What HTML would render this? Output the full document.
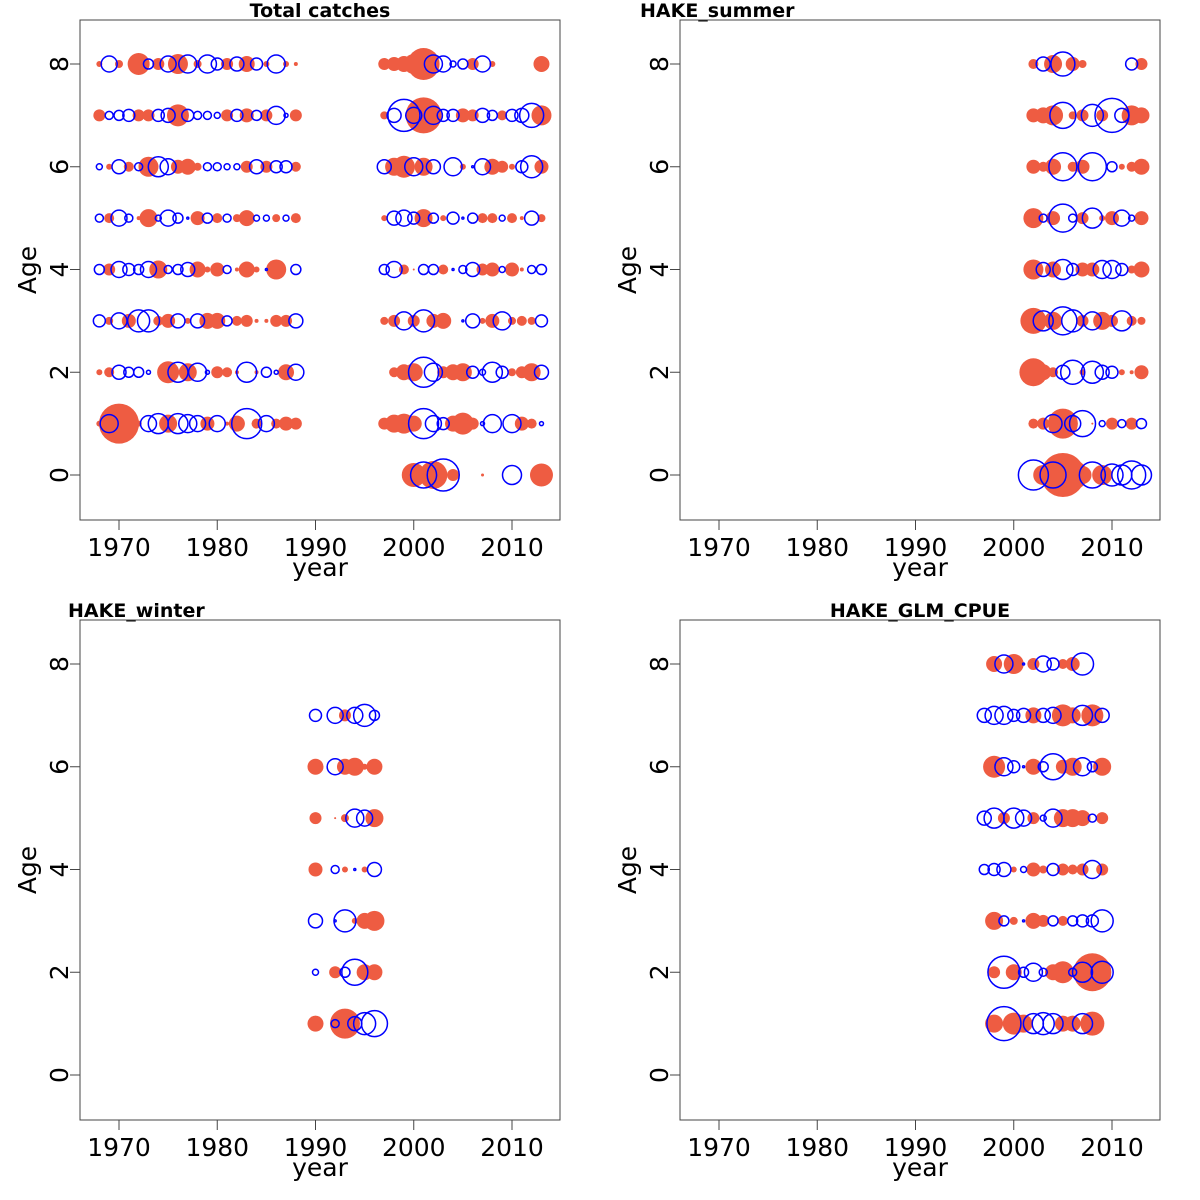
<!DOCTYPE html>
<html><head><meta charset="utf-8"><style>
html,body{margin:0;padding:0;background:#fff;}
svg{display:block;font-family:"DejaVu Sans","Liberation Sans",sans-serif;}
</style></head><body>
<svg id="chart" width="1200" height="1200" viewBox="0 0 1200 1200" xmlns="http://www.w3.org/2000/svg"></svg>
<script>
// ---- data ----
const tcYears = [1968,1969,1970,1971,1972,1973,1974,1975,1976,1977,1978,1979,1980,1981,1982,1983,1984,1985,1986,1987,1988,1997,1998,1999,2000,2001,2002,2003,2004,2005,2006,2007,2008,2009,2010,2011,2012,2013];
const tcAge0 = [0,0,0,0,0,0,0,0,0,0,0,0,0,0,0,0,0,0,0,0,0, 0,0,0,1.2,-1.3,1.4,-1.6,.6,0,0,.15,0,0,-.95,0,0,1.15];
const tcAge1 = [.3,-.9,2.0,.3,.3,-.8,-1.0,.9,-1.0,-.9,-.8,.7,-.8,.2,.8,-1.5,.5,-.8,.5,.7,.6, .6,.9,1.0,.8,-1.5,-.8,-.6,.8,1.1,.6,-.2,-.9,0,-.9,.7,.5,-.2];
const tcAge2 = [.3,.5,-.7,-.5,-.5,-.2,0,1.1,-1.0,.9,-.9,-.2,.6,.5,.2,-1.0,.2,-.5,-.2,.8,-.8, 0,.5,.8,.9,-1.5,-.9,.6,.8,.9,-.6,-.3,-1.0,-.6,.4,.6,.9,-.7];
const tcAge3 = [-.6,.4,-.8,.7,-1.1,-1.1,.5,.7,-.7,.3,-.7,.8,.8,-.5,.5,.6,.2,.2,.6,.6,-.7, .4,.6,-.9,.6,-1.1,.7,.8,0,-.1,-.7,.3,.7,-.9,.4,.5,.4,-.6];
const tcAge4 = [-.5,.6,-.8,-.6,-.5,-.8,.9,-.4,-.5,-.7,.8,.3,.7,-.4,.2,.8,.3,-.1,1.0,0,-.5, -.5,-.8,.5,.1,-.5,-.5,.5,-.1,-.4,-.7,.6,.7,-.3,.7,.2,-.4,-.5];
const tcAge5 = [-.4,.5,-.8,-.4,.2,.9,-.3,-.8,-.5,-.1,.7,-.5,.5,-.4,.4,.8,-.3,-.3,.4,-.3,.5, .3,-.7,-.8,-.6,.9,-.5,.3,-.6,-.1,-.5,.5,.5,-.3,.5,.2,-.7,.4];
const tcAge6 = [-.3,.3,-.7,.5,-.4,1.0,-1.0,-.8,.7,.8,.4,-.4,-.4,-.3,-.3,.6,-.7,.6,-.6,-.6,.5, -.7,.9,1.1,-.9,.9,-.7,0,-.9,.3,-.1,-.8,.8,.6,.3,-.6,-1.1,.7];
const tcAge7 = [.6,-.4,-.5,-.6,.6,.6,-.6,-.7,1.1,-.6,-.4,-.4,-.3,.6,-.6,.7,-.5,.6,-.9,-.2,.6, .4,-.7,-1.6,-.8,1.8,-.9,-.6,-.6,.7,.6,-.7,-.5,.5,-.6,-.7,-1.2,1.0];
const tcAge8 = [.3,-.8,.4,.1,1.1,-.5,.6,-.8,1.0,-.9,.4,-.9,-.6,.6,-.7,.8,-.6,.3,-.9,.3,.2, .6,.7,.8,1.0,1.6,-.9,-.8,-.3,-.5,.6,-.8,.3,0,0,0,0,.8];

const suYears = [2002,2003,2004,2005,2006,2007,2008,2009,2010,2011,2012,2013];
const suAge0 = [-1.5,1.0,-1.3,2.2,1.5,.9,-1.3,1.0,-1.1,-1.0,-1.4,-1.0];
const suAge1 = [.5,.6,-.9,1.5,-.8,-1.3,.1,-.3,.6,-.4,.6,-.5];
const suAge2 = [1.4,.8,.5,-.7,-1.2,.3,-1.1,-.7,-.6,.3,.2,.7];
const suAge3 = [1.3,-1.0,.9,-1.4,-1.1,.6,-.9,.9,.6,-1.0,.5,.4];
const suAge4 = [1.0,-.7,.8,-1.0,-.6,.7,.7,-.9,-.9,-.6,.4,.8];
const suAge5 = [1.0,-.4,.7,-1.4,-.4,.6,-1.0,.3,.7,-.8,-.3,.7];
const suAge6 = [.7,.5,.8,-1.4,.5,.7,-1.4,0,-.5,.3,.5,.8];
const suAge7 = [.7,.8,1.0,-1.3,.4,.6,-1.1,.6,-1.7,-.7,1.0,.8];
const suAge8 = [.5,-.7,.9,-1.2,.7,.4,0,0,0,0,-.6,.6];

const wiYears = [1990,1991,1992,1993,1994,1995,1996];
const wiAge0 = [0,0,0,0,0,0,0];
const wiAge1 = [.8,0,-.4,1.5,-.7,-1.1,-1.3];
const wiAge2 = [-.3,0,.6,-.5,-1.3,.8,.8];
const wiAge3 = [-.7,0,-.1,-1.1,.3,.8,1.0];
const wiAge4 = [.7,0,-.4,.3,-.1,.3,-.7];
const wiAge5 = [.6,0,.1,.4,-.9,-.8,.9];
const wiAge6 = [.8,0,-.8,.8,.9,.3,.8];
const wiAge7 = [-.6,0,-.8,.6,-.8,-1.1,-.5];
const wiAge8 = [0,0,0,0,0,0,0];

const glYears = [1997,1998,1999,2000,2001,2002,2003,2004,2005,2006,2007,2008,2009];
const glAge0 = [0,0,0,0,0,0,0,0,0,0,0,0,0];
const glAge1 = [0,.9,-1.7,1.1,.9,-1.0,-1.1,-1.0,.8,.8,-1.0,1.2,0];
const glAge2 = [0,.6,-1.6,.8,-.5,-.9,-.4,.8,1.1,-.4,-1.0,1.9,-1.1];
const glAge3 = [0,.9,-.5,.4,-.1,.8,.6,-.5,.5,-.5,-.6,-.6,-1.1];
const glAge4 = [-.5,-.6,-.7,.3,-.3,.7,.4,-.6,.6,.5,.6,-.9,.6];
const glAge5 = [-.7,-1.0,.6,-1.0,-.8,.6,-.3,-.9,.9,.9,.8,-.4,.6];
const glAge6 = [0,1.1,-.9,-.6,-.1,.8,-.5,-1.3,.7,.9,-.9,-.5,.9];
const glAge7 = [-.7,-.9,-.9,-.6,-.7,.8,-.7,-.8,1.1,.8,-1.0,1.1,-.7];
const glAge8 = [0,.8,-.9,1.0,-.1,.6,-.8,-.6,.5,.7,-1.1,0,0];

const xTicks = [1970,1980,1990,2000,2010];
const yTicks = [0,2,4,6,8];
const panelTitles = ["Total catches","HAKE_summer","HAKE_winter","HAKE_GLM_CPUE"];

// ---- drawing ----
const NS = "http://www.w3.org/2000/svg";
const svg = document.getElementById('chart');
function mk(tag, attrs, parent){ const e=document.createElementNS(NS,tag); for(const k in attrs) e.setAttribute(k,attrs[k]); (parent||svg).appendChild(e); return e; }

const panels = [
  {x0:80,y0:20,title:panelTitles[0],tx:320,anchor:"middle",years:tcYears,ages:[tcAge0,tcAge1,tcAge2,tcAge3,tcAge4,tcAge5,tcAge6,tcAge7,tcAge8],key:'total-catches'},
  {x0:680,y0:20,title:panelTitles[1],tx:640,anchor:"start",years:suYears,ages:[suAge0,suAge1,suAge2,suAge3,suAge4,suAge5,suAge6,suAge7,suAge8],key:'hake-summer'},
  {x0:80,y0:620,title:panelTitles[2],tx:68,anchor:"start",years:wiYears,ages:[wiAge0,wiAge1,wiAge2,wiAge3,wiAge4,wiAge5,wiAge6,wiAge7,wiAge8],key:'hake-winter'},
  {x0:680,y0:620,title:panelTitles[3],tx:920,anchor:"middle",years:glYears,ages:[glAge0,glAge1,glAge2,glAge3,glAge4,glAge5,glAge6,glAge7,glAge8],key:'hake-glm-cpue'}
];
const W=480,H=500, RSCALE=10, FS=25;

panels.forEach(p=>{
  const g = mk('g',{});
  
  
  const xs = yr => p.x0 + 39 + (yr-1970)*9.825;
  const ys = a => p.y0 + 455 - a*51.375;
  const t = mk('text',{x:p.tx,y:p.y0-3,'text-anchor':p.anchor,'font-size':19,'font-weight':'bold',fill:'#000'},g);
  t.textContent = p.title;
  
  
  const reds = mk('g',{fill:'#EE5C42',stroke:'none'},g);
  
  
  const blues = mk('g',{fill:'none',stroke:'#0000FF','stroke-width':1.5},g);
  
  
  p.ages.forEach((vals,age)=>{
    vals.forEach((v,i)=>{
      if(!v) return;
      const c = mk('circle',{cx:xs(p.years[i]),cy:ys(age),r:Math.abs(v)*RSCALE}, v>0?reds:blues);
      
      
    });
  });
  const f = mk('rect',{x:p.x0,y:p.y0,width:W,height:H,fill:'none',stroke:'#444','stroke-width':1},g);
  
  
  const xa = mk('g',{},g);
  
  
  xTicks.forEach(v=>{
    mk('line',{x1:xs(v),x2:xs(v),y1:p.y0+H,y2:p.y0+H+10,stroke:'#444'},xa);
    const l = mk('text',{x:xs(v),y:p.y0+H+36,'text-anchor':'middle','font-size':FS},xa);
    l.textContent = v;
  });
  const xt = mk('text',{x:p.x0+240,y:p.y0+H+56,'text-anchor':'middle','font-size':FS},g);
  xt.textContent = 'year';
  
  
  const ya = mk('g',{},g);
  
  
  yTicks.forEach(v=>{
    mk('line',{x1:p.x0-10,x2:p.x0,y1:ys(v),y2:ys(v),stroke:'#444'},ya);
    const l = mk('text',{x:0,y:0,'text-anchor':'middle','font-size':FS,transform:`translate(${p.x0-12},${ys(v)}) rotate(-90)`},ya);
    l.textContent = v;
  });
  const yt = mk('text',{x:0,y:0,'text-anchor':'middle','font-size':FS,transform:`translate(${p.x0-44},${p.y0+250}) rotate(-90)`},g);
  yt.textContent = 'Age';
  
  
});
</script>
</body></html>
